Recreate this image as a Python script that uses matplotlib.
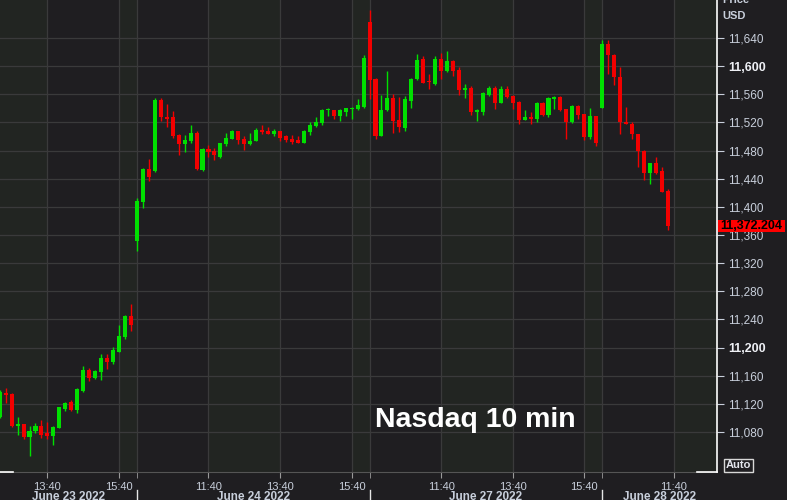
"""Nasdaq 10 minute candles, June 23 - June 28 2022, dark terminal style."""

import matplotlib

matplotlib.use("Agg")
import matplotlib.pyplot as plt
from matplotlib.lines import Line2D
from matplotlib.patches import Rectangle
from matplotlib.transforms import blended_transform_factory

# One bar every 10 minutes, sessions run 09:40 - 16:00 (bar 0 = June 23 12:20)
opens = [
    11101, 11135, 11134, 11088, 11091, 11073, 11081, 11089, 11078, 11075,
    11086, 11113, 11123, 11112, 11138, 11168, 11157, 11166, 11185, 11180,
    11194, 11215, 11245,
    11351, 11407, 11454, 11451, 11552, 11528, 11527, 11502, 11489, 11493,
    11505, 11452, 11482, 11480, 11471, 11489, 11496, 11508, 11497, 11489,
    11494, 11509, 11508, 11504, 11507, 11500, 11496, 11495, 11491, 11506,
    11515, 11519, 11537, 11538, 11529, 11534, 11539, 11539, 11542,
    11662, 11582, 11501, 11537, 11555, 11523, 11512, 11551, 11582, 11610,
    11579, 11574, 11610, 11593, 11607, 11594, 11566, 11569, 11534, 11534,
    11559, 11569, 11548, 11567, 11557, 11549, 11523, 11527, 11525, 11548,
    11530, 11553, 11556, 11539, 11520, 11543, 11532, 11499, 11529,
    11541, 11631, 11616, 11585, 11521, 11518, 11504, 11480, 11448, 11462,
    11451, 11422,
]
highs = [
    11140, 11143, 11135, 11102, 11092, 11088, 11093, 11097, 11095, 11088,
    11116, 11123, 11125, 11142, 11174, 11171, 11168, 11191, 11191, 11201,
    11232, 11246, 11262,
    11413, 11455, 11468, 11555, 11555, 11546, 11536, 11503, 11502, 11516,
    11507, 11483, 11488, 11483, 11491, 11505, 11509, 11508, 11500, 11505,
    11512, 11516, 11514, 11510, 11507, 11502, 11502, 11501, 11509, 11520,
    11527, 11539, 11540, 11538, 11539, 11541, 11542, 11553, 11615,
    11680, 11583, 11559, 11593, 11560, 11556, 11557, 11583, 11617, 11614,
    11589, 11614, 11619, 11621, 11608, 11599, 11575, 11571, 11539, 11563,
    11572, 11572, 11571, 11571, 11559, 11551, 11537, 11535, 11549, 11549,
    11556, 11558, 11557, 11539, 11545, 11545, 11532, 11541, 11529,
    11637, 11637, 11617, 11599, 11542, 11521, 11504, 11481, 11462, 11471,
    11456, 11425,
]
lows = [
    11100, 11121, 11087, 11076, 11070, 11046, 11078, 11071, 11070, 11062,
    11086, 11110, 11110, 11107, 11137, 11153, 11156, 11154, 11170, 11177,
    11194, 11212, 11224,
    11337, 11399, 11436, 11450, 11522, 11514, 11498, 11473, 11478, 11491,
    11453, 11451, 11471, 11466, 11470, 11486, 11496, 11489, 11481, 11488,
    11493, 11504, 11503, 11500, 11494, 11492, 11489, 11490, 11490, 11502,
    11514, 11516, 11529, 11525, 11522, 11529, 11525, 11538, 11541,
    11553, 11496, 11500, 11536, 11505, 11506, 11508, 11541, 11580, 11576,
    11567, 11573, 11581, 11592, 11586, 11559, 11554, 11531, 11522, 11531,
    11558, 11539, 11547, 11554, 11539, 11517, 11523, 11517, 11521, 11529,
    11527, 11539, 11536, 11497, 11519, 11525, 11495, 11497, 11486,
    11540, 11589, 11573, 11504, 11517, 11496, 11456, 11438, 11432, 11447,
    11421, 11367,
]
closes = [
    11137, 11132, 11088, 11092, 11073, 11082, 11089, 11076, 11075, 11087,
    11115, 11122, 11111, 11141, 11168, 11157, 11167, 11185, 11179, 11197,
    11217, 11245, 11232,
    11408, 11454, 11442, 11552, 11527, 11525, 11501, 11489, 11495, 11505,
    11454, 11482, 11478, 11473, 11490, 11498, 11508, 11495, 11489, 11494,
    11509, 11506, 11503, 11507, 11498, 11495, 11492, 11490, 11508, 11516,
    11521, 11538, 11539, 11529, 11537, 11540, 11541, 11544, 11612,
    11580, 11501, 11537, 11555, 11522, 11514, 11553, 11582, 11608, 11576,
    11577, 11610, 11593, 11607, 11593, 11566, 11569, 11534, 11537, 11561,
    11569, 11547, 11567, 11556, 11548, 11524, 11527, 11525, 11548, 11530,
    11555, 11556, 11538, 11521, 11543, 11530, 11499, 11529, 11490,
    11631, 11616, 11585, 11521, 11518, 11504, 11480, 11448, 11462, 11448,
    11421, 11372.204,
]
last_price = 11372.204

time_tick_bars = [8, 20, 35, 47, 59, 74, 86, 98, 113]
time_tick_labels = ["13:40", "15:40", "11:40", "13:40", "15:40",
                    "11:40", "13:40", "15:40", "11:40"]
day_start_bars = [23, 62, 101]
day_labels = ["June 23 2022", "June 24 2022", "June 27 2022", "June 28 2022"]
price_ticks = [11080, 11120, 11160, 11200, 11240, 11280, 11320, 11360,
               11400, 11440, 11480, 11520, 11560, 11600, 11640]
bold_prices = [11200, 11600]

BG = "#1f1e21"
BAND = "#222522"
GRID = "#3a3a3b"
TXT = "#c8cfdb"
UP = "#00e000"
DOWN = "#f20000"
W, H = 787, 500
YMIN, YMAX = 11023.3, 11693.8


def px(x, y):
    """Pixel position -> figure fraction."""
    return x / W, 1 - y / H


plt.rcParams["font.family"] = ["Liberation Sans", "DejaVu Sans"]
fig = plt.figure(figsize=(W / 100, H / 100), dpi=100, facecolor=BG)
ax = fig.add_axes([0, 28 / H, 717 / W, 472 / H], facecolor=BG)

xmin, xmax = 0.05, 120.25
ax.set_xlim(xmin, xmax)
ax.set_ylim(YMIN, YMAX)

# Alternating background bands between vertical grid lines
edges = sorted([xmin, xmax] + time_tick_bars + day_start_bars)
for k in range(len(edges) - 1):
    if k % 2 == 0:
        ax.axvspan(edges[k], edges[k + 1], color=BAND, zorder=0, lw=0)

# Candles
x = list(range(len(opens)))
colors = [UP if c >= o else DOWN for o, c in zip(opens, closes)]
ax.vlines(x, lows, highs, colors=colors, lw=1, zorder=3)
bottoms = [min(o, c) for o, c in zip(opens, closes)]
heights = [max(abs(c - o), 1.6) for o, c in zip(opens, closes)]
ax.bar(x, heights, bottom=bottoms, width=0.68, color=colors, lw=0, zorder=4)

# Axes, ticks and grid
ax.set_axisbelow(True)
ax.set_xticks(time_tick_bars)
ax.set_xticklabels(time_tick_labels)
ax.set_xticks(day_start_bars, minor=True)
ax.set_yticks(price_ticks)
ax.set_yticklabels([f"{p:,}" for p in price_ticks])
ax.yaxis.tick_right()
ax.grid(True, which="major", color=GRID, lw=0.9)
ax.grid(True, which="minor", axis="x", color=GRID, lw=0.9)
ax.tick_params(axis="x", which="both", length=4, color="#9a9a9a",
               labelsize=8, labelcolor=TXT, pad=3)
ax.tick_params(axis="y", length=5, color=TXT, labelsize=8.5,
               labelcolor=TXT, pad=3)
for lab, p in zip(ax.get_yticklabels(), price_ticks):
    if p in bold_prices:
        lab.set_fontweight("bold")
        lab.set_fontsize(9)
        lab.set_color("#eef0f5")
for side in ["top", "left", "right"]:
    ax.spines[side].set_visible(False)
ax.spines["bottom"].set_color("#555555")

# White frame bits
for (x0, y0), (x1, y1) in [((717, 0), (717, 472)), ((697, 472), (717, 472)),
                           ((0, 472), (13, 472))]:
    a, b = px(x0, y0), px(x1, y1)
    fig.add_artist(Line2D([a[0], b[0]], [a[1], b[1]], color="white", lw=1.2))

# Day separators and labels in the date row
trans = blended_transform_factory(ax.transData, fig.transFigure)
for b in day_start_bars:
    ax.add_artist(Line2D([b, b], [0, px(0, 490)[1]], color="#e6e6e6", lw=1,
                         transform=trans, clip_on=False))
spans = [xmin] + day_start_bars + [xmax]
for k, lab in enumerate(day_labels):
    mid = (spans[k] + spans[k + 1]) / 2
    ax.text(mid, px(0, 491.5)[1], lab, transform=trans, ha="center", va="top",
            fontsize=8.5, fontweight="bold", color=TXT, clip_on=False)

# Price header, last price and Auto box
fig.text(*px(722, 0), "Price", ha="left", va="center", fontsize=8,
         fontweight="bold", color=TXT)
fig.text(*px(722, 16), "USD", ha="left", va="center", fontsize=8,
         fontweight="bold", color=TXT)

y_last = 28 / H + (last_price - YMIN) / (YMAX - YMIN) * 472 / H
fig.add_artist(Rectangle(px(718, 232), 67 / W, 12 / H, transform=fig.transFigure,
                         fc="#ff0000", ec="none"))
fig.text(751.5 / W, y_last, "11,372.204", ha="center", va="center",
         fontsize=9, fontweight="bold", color="black")

fig.add_artist(Rectangle(px(724, 472), 29 / W, 13 / H, transform=fig.transFigure,
                         fc="none", ec="#d8d8d8", lw=1))
fig.text(*px(738.5, 465.5), "Auto", ha="center", va="center", fontsize=8,
         fontweight="bold", color="#e4e6ee")

fig.text(475 / W, px(0, 427)[1], "Nasdaq 10 min", ha="center", va="baseline",
         fontsize=20.5, fontweight="bold", color="white")

fig.savefig("out.png", dpi=100, facecolor=BG)
